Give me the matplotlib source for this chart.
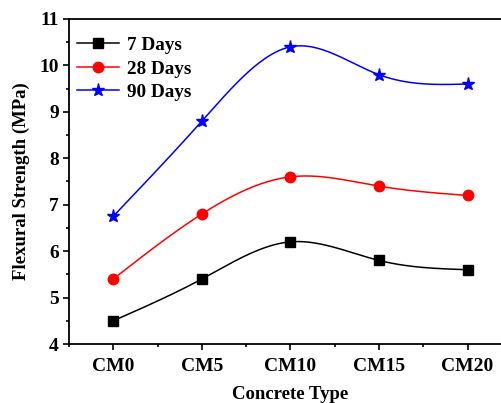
import numpy as np
import matplotlib
matplotlib.use('Agg')
import matplotlib.pyplot as plt
from matplotlib.ticker import MultipleLocator

plt.rcParams['font.family'] = ['Liberation Serif', 'DejaVu Serif']
plt.rcParams['font.weight'] = 'bold'

## 数据
types = ['CM0', 'CM5', 'CM10', 'CM15', 'CM20']
days7 = [4.5, 5.4, 6.2, 5.8, 5.6]
days28 = [5.4, 6.8, 7.6, 7.4, 7.2]
days90 = [6.75, 8.8, 10.4, 9.8, 9.6]


def natural_spline(x, y, n=200):
    # 自然三次样条, 类似 Origin 的 spline 连线
    x = np.asarray(x, float)
    y = np.asarray(y, float)
    k = len(x)
    h = np.diff(x)
    A = np.zeros((k, k))
    b = np.zeros(k)
    A[0, 0] = A[-1, -1] = 1
    for i in range(1, k - 1):
        A[i, i - 1] = h[i - 1]
        A[i, i] = 2 * (h[i - 1] + h[i])
        A[i, i + 1] = h[i]
        b[i] = 6 * ((y[i + 1] - y[i]) / h[i] - (y[i] - y[i - 1]) / h[i - 1])
    M = np.linalg.solve(A, b)
    xs = np.linspace(x[0], x[-1], n)
    ys = np.empty_like(xs)
    for j, t in enumerate(xs):
        i = min(np.searchsorted(x, t, side='right') - 1, k - 2)
        a = x[i + 1] - t
        c = t - x[i]
        ys[j] = (M[i] * a ** 3 + M[i + 1] * c ** 3) / (6 * h[i]) \
            + (y[i] / h[i] - M[i] * h[i] / 6) * a \
            + (y[i + 1] / h[i] - M[i + 1] * h[i] / 6) * c
    return xs, ys


fig = plt.figure(figsize=(5.01, 4.03), dpi=100)
ax = fig.add_axes([0.1377, 0.1464, 0.884, 0.8065])

xi = np.arange(len(types))
series = [(days7, 'black', 's', 6.8, '7 Days'),
          (days28, 'red', 'o', 7.5, '28 Days'),
          (days90, 'blue', '*', 9.5, '90 Days')]
for vals, col, mk, ms, lab in series:
    xs, ys = natural_spline(xi, vals)
    ax.plot(xs, ys, color=col, lw=1.1)
    ax.plot(xi, vals, linestyle='none', marker=mk, color=col, markersize=ms)
    ax.plot([], [], color=col, lw=1.1, marker=mk, markersize=ms, label=lab)

ax.set_xlim(-0.5, 4.5)
ax.set_ylim(4, 11)
ax.set_xticks(xi)
ax.set_xticklabels(types)
ax.xaxis.set_minor_locator(MultipleLocator(0.5))
ax.yaxis.set_major_locator(MultipleLocator(1))
ax.yaxis.set_minor_locator(MultipleLocator(0.5))
ax.tick_params(which='major', direction='out', length=4.3, width=1.2,
               labelsize=14, pad=3)
ax.tick_params(axis='x', which='major', pad=6)
ax.tick_params(which='minor', direction='out', length=2.2, width=1.2)
for sp in ax.spines.values():
    sp.set_linewidth(1.3)

ax.set_xlabel('Concrete Type', fontsize=13.5, fontweight='bold', labelpad=8)
ax.set_ylabel('Flexural Strength (MPa)', fontsize=13.5, fontweight='bold', labelpad=7)

ax.legend(loc='upper left', frameon=False, fontsize=13.8, handlelength=2.2,
          borderaxespad=0.0, borderpad=0.5, labelspacing=0.32, handletextpad=0.4,
          bbox_to_anchor=(-0.003, 0.975))

fig.savefig('out.png', dpi=100)
